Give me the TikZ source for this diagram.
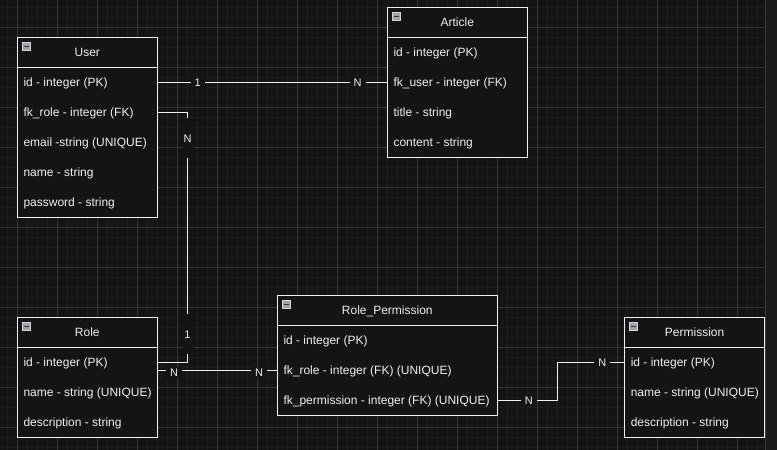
\documentclass[tikz,border=0pt]{standalone}
\usepackage{fontspec}
\setmainfont{Liberation Sans}
\usetikzlibrary{calc}

\definecolor{canvas}{HTML}{141414}
\definecolor{gridminor}{HTML}{1D1D1D}
\definecolor{gridmajor}{HTML}{343434}
\definecolor{ink}{HTML}{F0F0F0}
\definecolor{sidebar}{HTML}{1B1B1B}
\definecolor{sideline}{HTML}{3A3A3A}
\definecolor{iconfill}{HTML}{9EA4AC}
\definecolor{iconedge}{HTML}{D0D4D8}

\tikzset{
  tbl/.style={draw=ink, line width=1.1pt, fill=canvas, inner sep=0pt, outer sep=0pt},
  hdr/.style={inner sep=0pt, outer sep=0pt, minimum height=30pt},
  hdrtext/.style={anchor=base, inner sep=0pt, text=ink, font=\fontsize{12}{14}\selectfont},
  fieldbox/.style={inner sep=0pt, outer sep=0pt, minimum height=30pt, anchor=north west},
  fieldtext/.style={anchor=base west, inner sep=0pt, text=ink, font=\fontsize{12}{14}\selectfont},
  conn/.style={draw=ink, line width=1.1pt},
  card/.style={fill=canvas, text=ink, inner xsep=4pt, inner ysep=2pt,
               font=\fontsize{11}{13}\selectfont},
  vcard/.style={card, minimum height=40pt, minimum width=12pt, inner xsep=1pt},
}

% entity frame: #1 id, #2 x, #3 y, #4 width, #5 height, #6 title
\newcommand{\entityframe}[6]{%
  \node[tbl, minimum width=#4, minimum height=#5, anchor=north west] (#1) at (#2,#3) {};
  \node[hdr, minimum width=#4, anchor=north west] (#1-h) at (#2,#3) {};
  \node[hdrtext] (#1-t) at ($(#1-h.center)+(0,4)$) {#6};
  \draw[draw=ink, line width=1.1pt] (#1-h.south west) -- (#1-h.south east);
  \draw[fill=iconfill, draw=iconedge, line width=0.5pt]
    ($(#1.north west)+(5,5)$) rectangle ++(8,8);
  \draw[draw=black!80, line width=1pt] ($(#1.north west)+(6.5,9)$) -- ++(5,0);
}
% one attribute row: #1 id, #2 x, #3 y, #4 width, #5 text
\newcommand{\fieldrow}[5]{%
  \node[fieldbox, minimum width=#4] (#1) at (#2,#3) {};
  \node[fieldtext] (#1-t) at ($(#1.west)+(6,4)$) {#5};
}

\begin{document}
\begin{tikzpicture}[x=1pt, y=-1pt]
  \useasboundingbox (0,0) rectangle (777,450);
  \fill[canvas] (0,0) rectangle (777,450);

  % background grid
  \foreach \i in {0,...,75}
    \draw[gridminor, line width=0.8pt] (7.3+10*\i,0) -- (7.3+10*\i,450);
  \foreach \i in {0,...,44}
    \draw[gridminor, line width=0.8pt] (0,7.3+10*\i) -- (764,7.3+10*\i);
  \foreach \i in {0,...,18}
    \draw[gridmajor, line width=0.9pt] (17.3+40*\i,0) -- (17.3+40*\i,450);
  \foreach \i in {0,...,10}
    \draw[gridmajor, line width=0.9pt] (0,27.3+40*\i) -- (764,27.3+40*\i);
  \fill[sidebar] (765,0) rectangle (777,450);
  \draw[sideline, line width=0.9pt] (765,0) -- (765,450);

  % User
  \entityframe{user}{17.3}{37.3}{140pt}{180pt}{User}
  \fieldrow{user-id}{17.3}{67.3}{140pt}{id - integer (PK)}
  \fieldrow{user-fk}{17.3}{97.3}{140pt}{fk\_role - integer (FK)}
  \fieldrow{user-mail}{17.3}{127.3}{140pt}{email -string (UNIQUE)}
  \fieldrow{user-name}{17.3}{157.3}{140pt}{name - string}
  \fieldrow{user-pw}{17.3}{187.3}{140pt}{password - string}

  % Article
  \entityframe{art}{387.3}{7.3}{140pt}{150pt}{Article}
  \fieldrow{art-id}{387.3}{37.3}{140pt}{id - integer (PK)}
  \fieldrow{art-fk}{387.3}{67.3}{140pt}{fk\_user - integer (FK)}
  \fieldrow{art-title}{387.3}{97.3}{140pt}{title - string}
  \fieldrow{art-body}{387.3}{127.3}{140pt}{content - string}

  % Role
  \entityframe{role}{17.3}{317.3}{140pt}{120pt}{Role}
  \fieldrow{role-id}{17.3}{347.3}{140pt}{id - integer (PK)}
  \fieldrow{role-name}{17.3}{377.3}{140pt}{name - string (UNIQUE)}
  \fieldrow{role-desc}{17.3}{407.3}{140pt}{description - string}

  % Role_Permission
  \entityframe{rp}{277.3}{295.3}{220pt}{120pt}{Role\_Permission}
  \fieldrow{rp-id}{277.3}{325.3}{220pt}{id - integer (PK)}
  \fieldrow{rp-role}{277.3}{355.3}{220pt}{fk\_role - integer (FK) (UNIQUE)}
  \fieldrow{rp-perm}{277.3}{385.3}{220pt}{fk\_permission - integer (FK) (UNIQUE)}

  % Permission
  \entityframe{perm}{624.6}{317.3}{140pt}{120pt}{Permission}
  \fieldrow{perm-id}{624.6}{347.3}{140pt}{id - integer (PK)}
  \fieldrow{perm-name}{624.6}{377.3}{140pt}{name - string (UNIQUE)}
  \fieldrow{perm-desc}{624.6}{407.3}{140pt}{description - string}

  % relationships
  \draw[conn] (user-id.east) -- (art-fk.west);
  \draw[conn] (user-fk.east) -- ++(30.2,0) coordinate (bendA)
              -- (bendA |- role-id.east) -- (role-id.east);
  \draw[conn] (rp-role.west) -- (rp-role.west -| role-id.east);
  \draw[conn] (rp-perm.east) -- ++(60,0) coordinate (bendB)
              -- (bendB |- perm-id.east) -- (perm-id.west);

  % cardinalities
  \node[card] (c-user-1)  at (197.7,82.3)  {1};
  \node[card] (c-art-n)   at (357.6,82.3)  {N};
  \node[vcard] (c-fk-n)   at (187.5,138.3) {N};
  \node[vcard] (c-role-1) at (187.5,334.4) {1};
  \node[card] (c-role-n)  at (174.2,372.5) {N};
  \node[card] (c-rp-n)    at (259.2,372.5) {N};
  \node[card] (c-rpp-n)   at (528.8,400.3) {N};
  \node[card] (c-perm-n)  at (602.3,362.3) {N};
\end{tikzpicture}
\end{document}
